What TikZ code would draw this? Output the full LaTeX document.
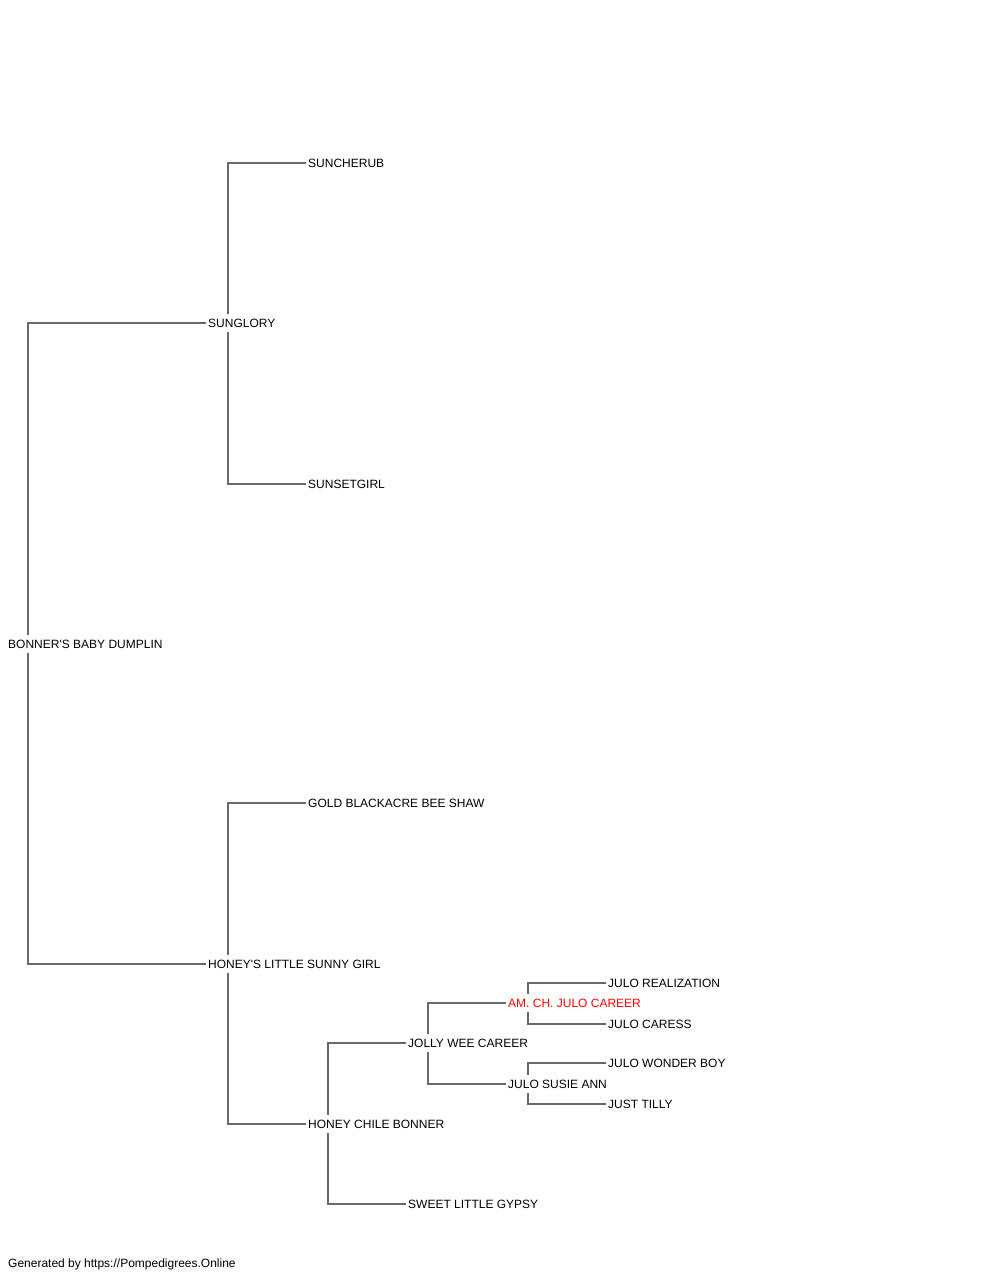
\documentclass[tikz,border=0pt]{standalone}
\usepackage{fontspec}
\setmainfont{Liberation Sans}
\usetikzlibrary{backgrounds}
\definecolor{linegray}{RGB}{105,105,105}
\definecolor{namered}{RGB}{255,0,0}
\tikzset{
  dog/.style={anchor=west, fill=white, inner xsep=2pt, inner ysep=0pt,
    minimum height=18pt, text height=8.6pt, text depth=0pt,
    font=\fontsize{12}{14}\selectfont, text=black},
  hl/.style={dog, text=namered},
  link/.style={draw=linegray, line width=1.2pt},
  foot/.style={anchor=west, inner sep=0pt, font=\fontsize{12}{14}\selectfont}
}
\begin{document}
\begin{tikzpicture}[x=1pt,y=-1pt]
\useasboundingbox (0,0) rectangle (1000,1280);
\node[dog] (root) at (6,644) {BONNER\textquotesingle S BABY DUMPLIN};
\node[dog] (sunglory) at (206,323) {SUNGLORY};
\node[dog] (suncherub) at (306,163) {SUNCHERUB};
\node[dog] (sunsetgirl) at (306,484) {SUNSETGIRL};
\node[dog] (honeys) at (206,964) {HONEY\textquotesingle S LITTLE SUNNY GIRL};
\node[dog] (gold) at (306,803) {GOLD BLACKACRE BEE SHAW};
\node[dog] (honeychile) at (306,1124) {HONEY CHILE BONNER};
\node[dog] (jolly) at (406,1043) {JOLLY WEE CAREER};
\node[dog] (gypsy) at (406,1204) {SWEET LITTLE GYPSY};
\node[hl] (amch) at (506,1003) {AM. CH. JULO CAREER};
\node[dog] (susie) at (506,1084) {JULO SUSIE ANN};
\node[dog] (realization) at (606,983) {JULO REALIZATION};
\node[dog] (caress) at (606,1024) {JULO CARESS};
\node[dog] (wonder) at (606,1063) {JULO WONDER BOY};
\node[dog] (tilly) at (606,1104) {JUST TILLY};
\node[foot] (footer) at (8,1264) {Generated by https://Pompedigrees.Online};
\begin{pgfonlayer}{background}
\draw[link] (sunglory.west) -| ([xshift=22pt]root.west) |- (honeys.west);
\draw[link] (suncherub.west) -| ([xshift=22pt]sunglory.west) |- (sunsetgirl.west);
\draw[link] (gold.west) -| ([xshift=22pt]honeys.west) |- (honeychile.west);
\draw[link] (jolly.west) -| ([xshift=22pt]honeychile.west) |- (gypsy.west);
\draw[link] (amch.west) -| ([xshift=22pt]jolly.west) |- (susie.west);
\draw[link] (realization.west) -| ([xshift=22pt]amch.west) |- (caress.west);
\draw[link] (wonder.west) -| ([xshift=22pt]susie.west) |- (tilly.west);
\end{pgfonlayer}
\end{tikzpicture}
\end{document}
